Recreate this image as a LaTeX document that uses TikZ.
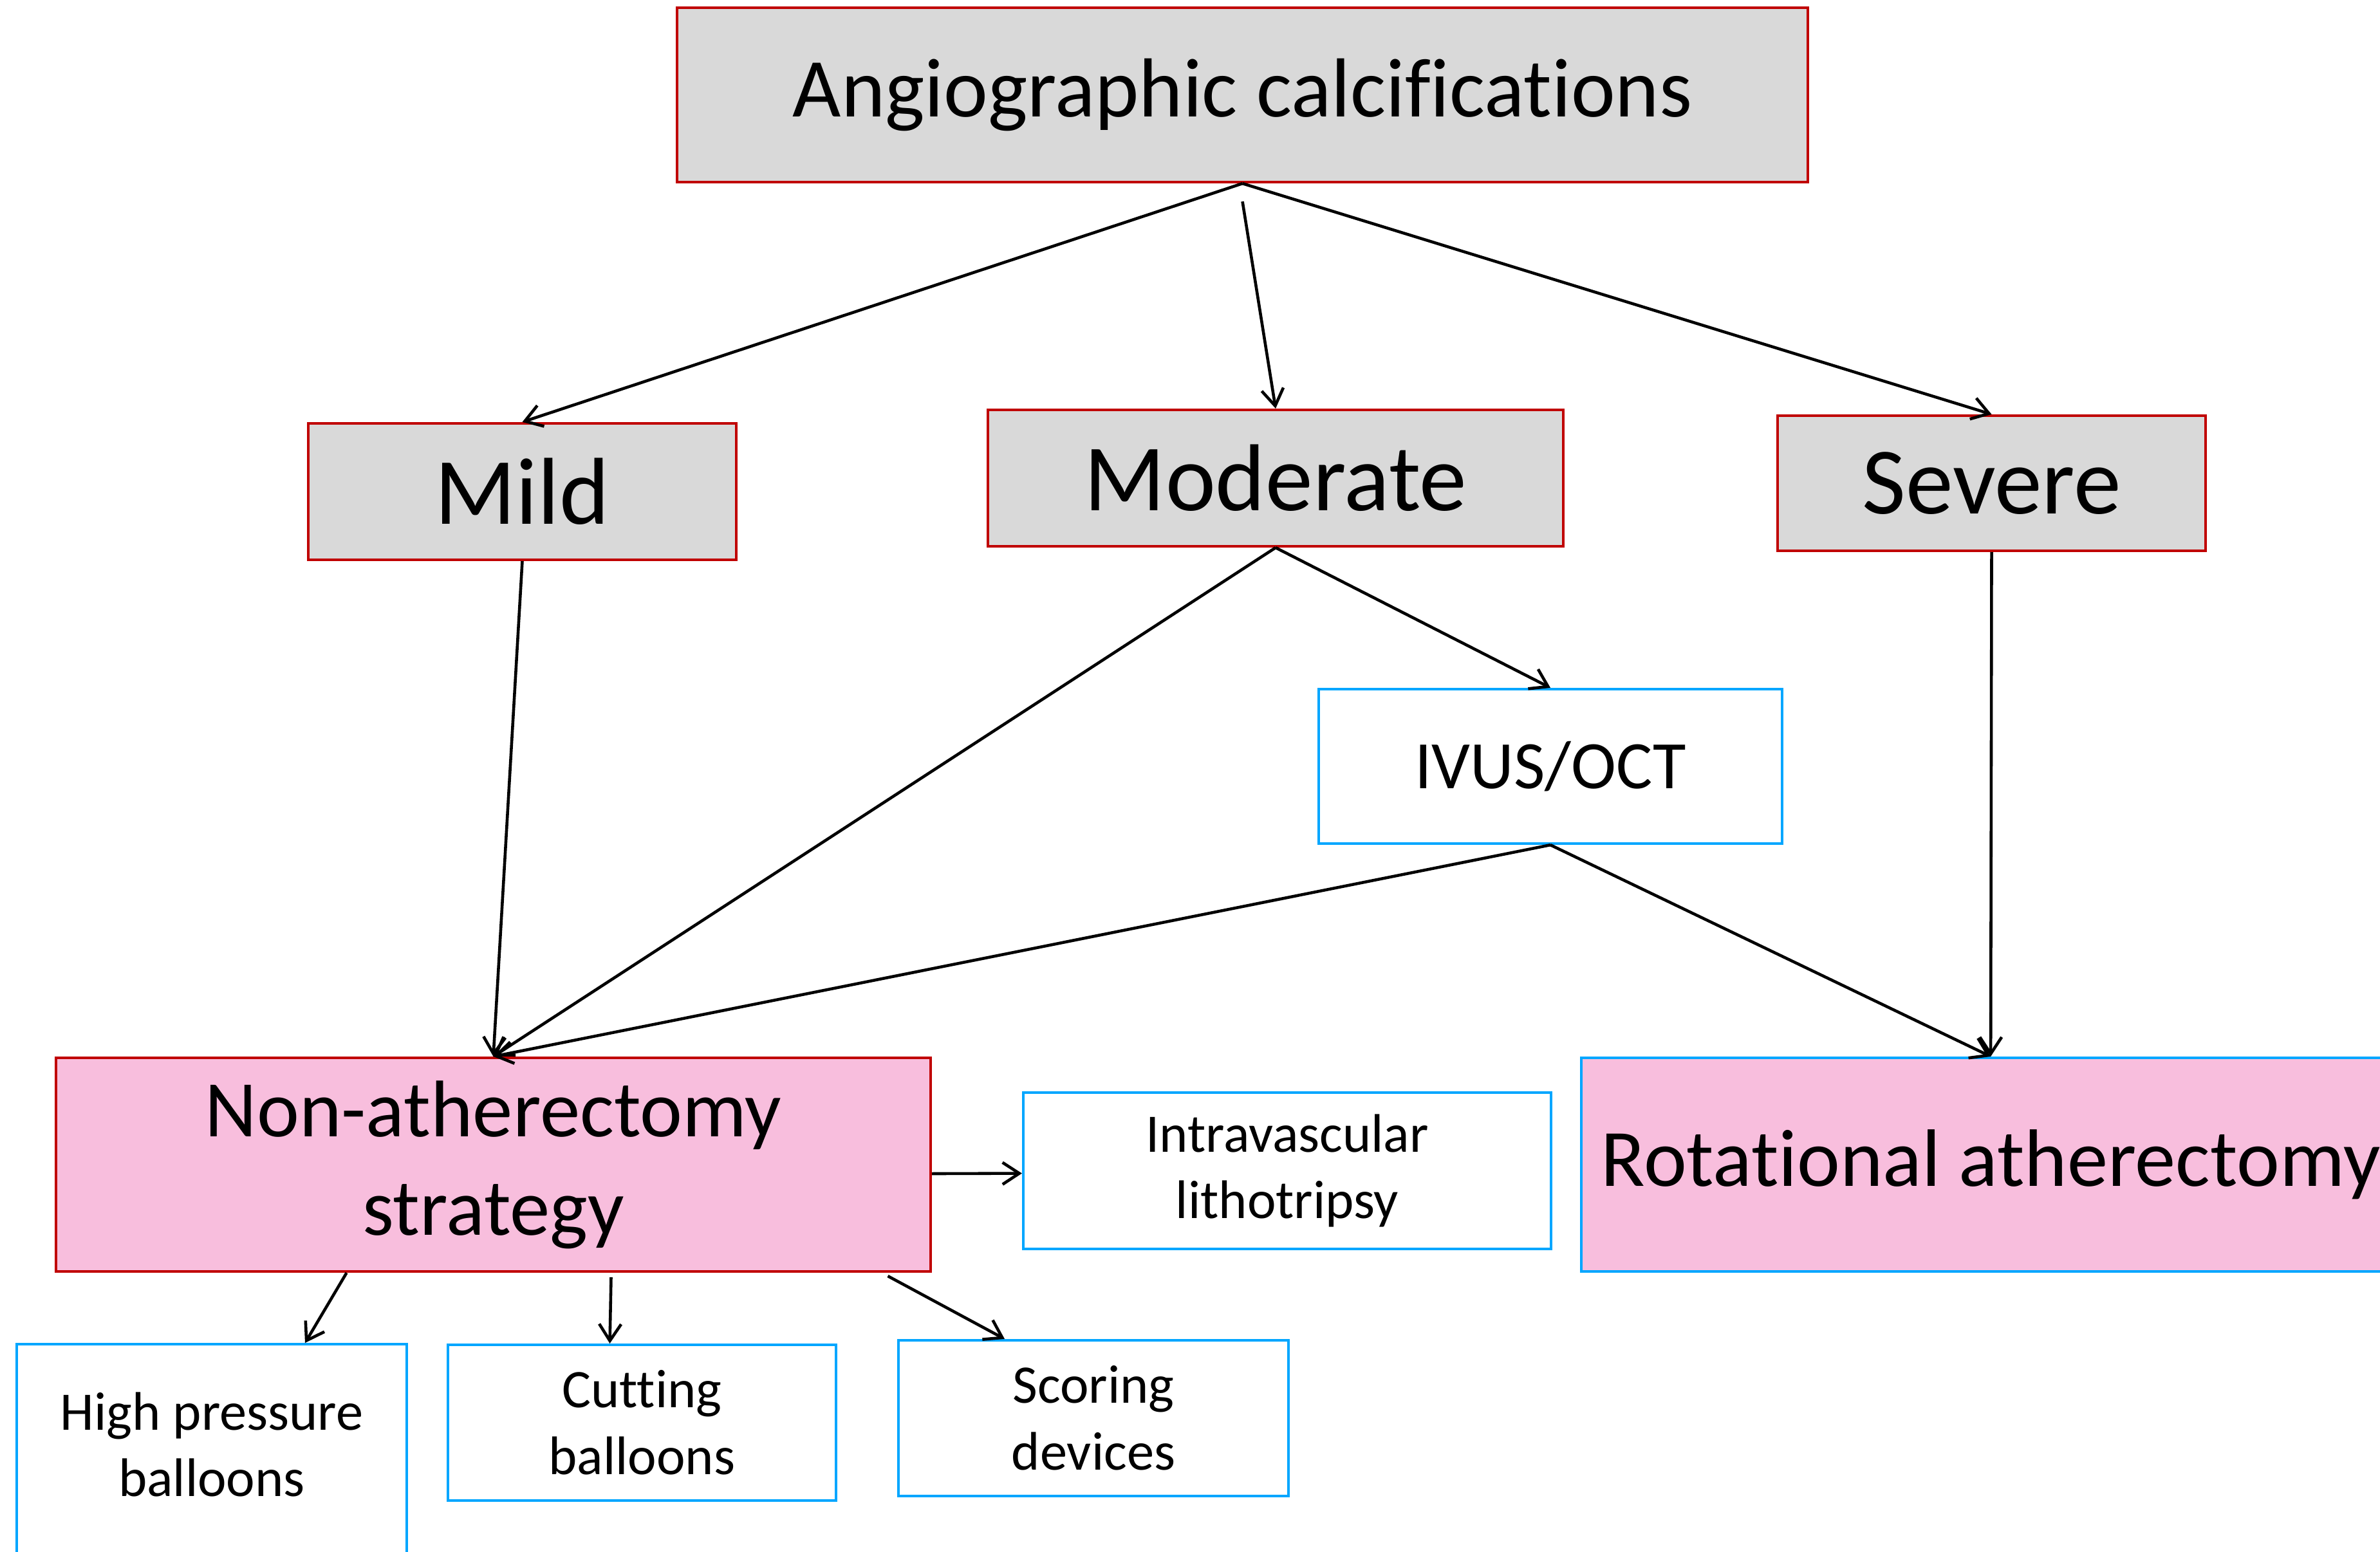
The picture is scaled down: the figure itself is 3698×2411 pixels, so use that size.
\documentclass[tikz,border=0pt]{standalone}
\usepackage{fontspec}
\setmainfont{Carlito}[Ligatures={NoCommon,NoRequired}]
\usetikzlibrary{arrows.meta,calc}
\definecolor{bred}{RGB}{192,0,0}
\definecolor{bgray}{RGB}{217,217,217}
\definecolor{bblue}{RGB}{0,166,255}
\definecolor{bpink}{RGB}{248,190,221}
\begin{document}
\begin{tikzpicture}[x=0.01cm,y=-0.01cm,
  graybox/.style={draw=bred,fill=bgray,line width=1.2pt,inner sep=0pt,align=center},
  pinkred/.style={draw=bred,fill=bpink,line width=1.2pt,inner sep=0pt,align=center,font=\fontsize{35.5}{43.5}\selectfont},
  pinkblue/.style={draw=bblue,fill=bpink,line width=1.2pt,inner sep=0pt,align=center,font=\fontsize{35.5}{43.5}\selectfont},
  bluebox/.style={draw=bblue,fill=white,line width=1.2pt,inner sep=0pt,align=center,font=\fontsize{24}{29.5}\selectfont},
  conn/.style={draw=black,line width=1.3pt,-{Straight Barb[length=0.26cm,width=0.34cm]}}]
\useasboundingbox (0,0) rectangle (3698,2411);
\clip (0,0) rectangle (3698,2411);
\fill[white] (0,0) rectangle (3698,2411);

\node[graybox,minimum width=1757*0.01cm,minimum height=271*0.01cm,font=\fontsize{37}{44}\selectfont] (angio) at (1930.5,147.5) {Angiographic calcifications};
\node[graybox,minimum width=665*0.01cm,minimum height=212*0.01cm,font=\fontsize{42}{50}\selectfont] (mild) at (811.5,764) {Mild};
\node[graybox,minimum width=894*0.01cm,minimum height=212*0.01cm,font=\fontsize{42}{50}\selectfont] (mod) at (1982,743) {Moderate};
\node[graybox,minimum width=665*0.01cm,minimum height=210*0.01cm,font=\fontsize{42}{50}\selectfont] (sev) at (3094.5,751) {Severe};
\node[bluebox,minimum width=720*0.01cm,minimum height=240*0.01cm,font=\fontsize{30}{36}\selectfont] (ivus) at (2409,1191) {IVUS/OCT};
\node[pinkred,minimum width=1359*0.01cm,minimum height=332*0.01cm] (non) at (766.5,1810) {Non-atherectomy\\strategy};
\node[pinkblue,minimum width=1272*0.01cm,minimum height=332*0.01cm,anchor=west,font=\fontsize{36}{44}\selectfont] (rot) at (2455,1810) {Rotational atherectomy};
\node[bluebox,minimum width=820*0.01cm,minimum height=243*0.01cm] (ivl) at (2000,1819.5) {Intravascular\\lithotripsy};
\node[bluebox,minimum width=606*0.01cm,minimum height=400*0.01cm,anchor=north] (hpb) at (329,2087) {};
\node[font=\fontsize{24}{29.5}\selectfont,align=center,inner sep=0pt] (hpbt) at (329,2245) {High pressure\\balloons};
\node[bluebox,minimum width=603*0.01cm,minimum height=242*0.01cm] (cut) at (997.5,2211) {Cutting\\balloons};
\node[bluebox,minimum width=606*0.01cm,minimum height=242*0.01cm] (scor) at (1699,2204) {Scoring\\devices};

\draw[conn] (angio.south) -- (mild.north);
\draw[conn] ($(angio.south)+(0,28)$) -- (mod.north);
\draw[conn] (angio.south) -- (sev.north);
\draw[conn] (mild.south) -- (non.north);
\draw[conn] (mod.south) -- (non.north);
\draw[conn] (mod.south) -- (ivus.north);
\draw[conn] (ivus.south) -- (non.north);
\draw[conn] (ivus.south) -- (rot.north);
\draw[conn] (sev.south) -- (rot.north);
\draw[conn] ($(non.east)+(0,14)$) -- ($(ivl.west)+(0,4)$);
\draw[conn] ($(non.south)+(-228,0)$) -- ($(hpb.north)+(145,0)$);
\draw[conn] ($(non.south)+(183,7)$) -- ($(cut.north)+(-50,0)$);
\draw[conn] ($(non.south)+(613,5)$) -- ($(scor.north)+(-138,0)$);
\end{tikzpicture}
\end{document}
